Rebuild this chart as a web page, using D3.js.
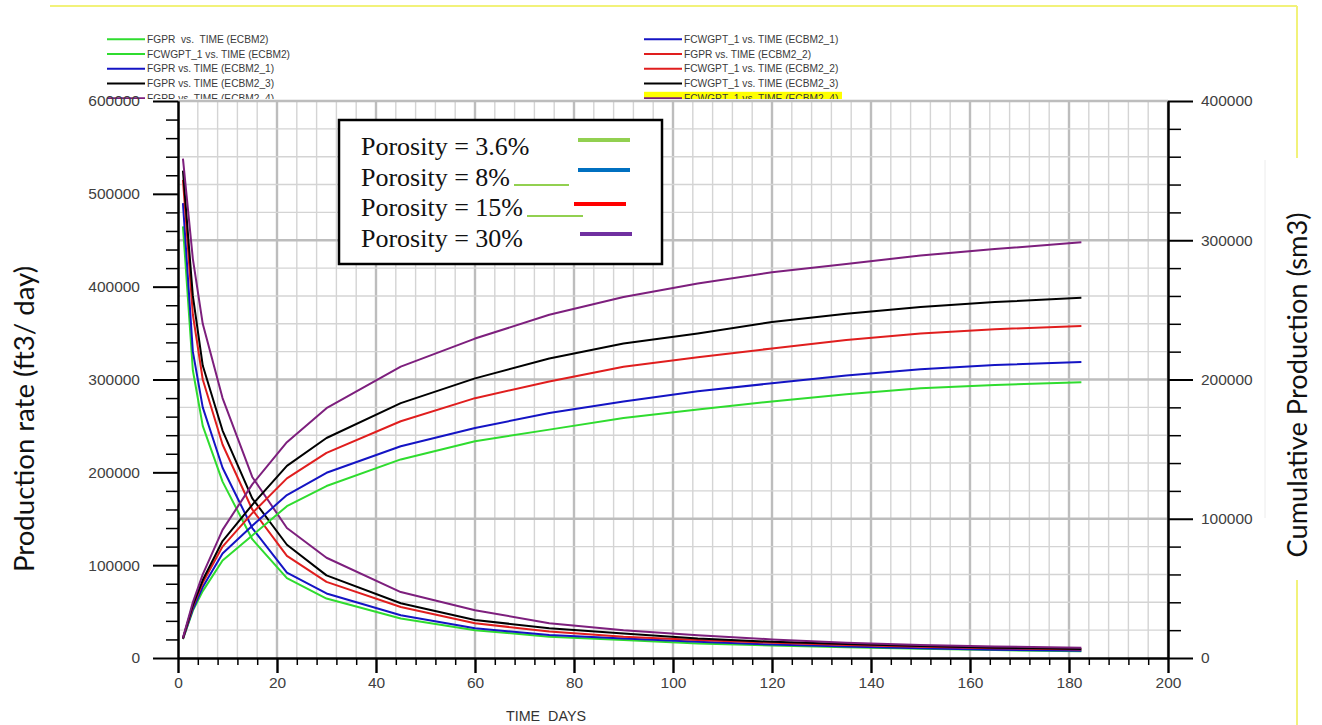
<!DOCTYPE html>
<html>
<head>
<meta charset="utf-8">
<script src="https://cdn.jsdelivr.net/npm/d3@7"></script>
<style>
  html, body { margin: 0; padding: 0; background: #fff; }
  svg { display: block; }
  text { white-space: pre; }
</style>
</head>
<body>
<svg id="chart" width="1322" height="725"></svg>
<script>
// Simulation report times (days)
const timeDays = [1, 3, 5, 9, 15, 22, 30, 45, 60, 75, 90, 105, 120, 135, 150, 165, 182.5];

// Field gas production rate FGPR (ft3/day), one array per case
const rateEcbm2   = [465000, 310000, 250000, 190000, 128000, 86000, 64000, 42600, 30000, 22800, 19300, 15700, 13500, 11500, 10000, 8500, 7300];
const rateEcbm2_1 = [490000, 330000, 270000, 205000, 140000, 92000, 69500, 46000, 32000, 24700, 21000, 17500, 14500, 12500, 10500, 9000, 7800];
const rateEcbm2_2 = [515000, 370000, 300000, 230000, 160000, 110000, 82000, 55000, 37500, 28500, 23000, 19300, 16500, 14000, 12000, 10500, 9200];
const rateEcbm2_3 = [525000, 390000, 315000, 245000, 172000, 122000, 89000, 59000, 41000, 32000, 26500, 21000, 17500, 15000, 12800, 11000, 9800];
const rateEcbm2_4 = [538000, 430000, 360000, 280000, 195000, 140000, 108000, 71000, 51500, 37500, 30000, 24500, 20000, 16500, 14000, 12500, 11000];

// Cumulative coal-bed gas production FCWGPT_1 (sm3), one array per case
const cumEcbm2   = [13500, 34000, 48000, 70000, 88000, 109000, 123500, 142600, 155700, 164000, 172300, 178500, 184200, 189400, 193700, 196100, 198000];
const cumEcbm2_1 = [13700, 35000, 51000, 75000, 95000, 117000, 133000, 152100, 165200, 175900, 184200, 191500, 197300, 202800, 207300, 210400, 212500];
const cumEcbm2_2 = [14000, 37000, 54000, 80000, 104000, 129000, 147300, 170000, 186600, 198500, 209200, 216000, 222300, 228300, 233000, 236100, 238500];
const cumEcbm2_3 = [14200, 38000, 56000, 84000, 110000, 138000, 158000, 183000, 200800, 215100, 225800, 233000, 241300, 247300, 252000, 255600, 258700];
const cumEcbm2_4 = [14500, 40000, 60000, 92000, 124700, 155000, 179400, 209200, 229400, 246500, 259200, 269000, 277000, 283000, 289000, 293700, 298500];

const caseColors = ["#2fdc2f", "#1414c4", "#e01e1e", "#000000", "#7d1f7d"];
const rateSeries = [rateEcbm2, rateEcbm2_1, rateEcbm2_2, rateEcbm2_3, rateEcbm2_4];
const cumSeries  = [cumEcbm2, cumEcbm2_1, cumEcbm2_2, cumEcbm2_3, cumEcbm2_4];

// Axis ticks
const rateTicks = [0, 100000, 200000, 300000, 400000, 500000, 600000];
const cumTicks  = [0, 100000, 200000, 300000, 400000];
const timeTicks = [0, 20, 40, 60, 80, 100, 120, 140, 160, 180, 200];

// Plot-software legend (two columns)
const legendLeftLabels  = ["FGPR  vs.  TIME (ECBM2)", "FCWGPT_1 vs. TIME (ECBM2)", "FGPR vs. TIME (ECBM2_1)", "FGPR vs. TIME (ECBM2_3)", "FGPR vs. TIME (ECBM2_4)"];
const legendLeftCase    = [0, 0, 1, 3, 4];
const legendRightLabels = ["FCWGPT_1 vs. TIME (ECBM2_1)", "FGPR vs. TIME (ECBM2_2)", "FCWGPT_1 vs. TIME (ECBM2_2)", "FCWGPT_1 vs. TIME (ECBM2_3)", "FCWGPT_1 vs. TIME (ECBM2_4)"];
const legendRightCase   = [1, 2, 2, 3, 4];

// Porosity key
const porosityLabels = ["Porosity = 3.6%", "Porosity = 8%", "Porosity = 15%", "Porosity = 30%"];
const porosityColors = ["#92d050", "#0070c0", "#ff0000", "#7030a0"];

(function draw() {
  const svg = d3.select("#chart");
  const W = 1322, H = 725;
  const pL = 178, pR = 1168, pT = 101, pB = 658;

  svg.append("rect").attr("width", W).attr("height", H).attr("fill", "#fff");

  const x = d3.scaleLinear().domain([0, 200]).range([pL, pR]);
  const yRate = d3.scaleLinear().domain([0, 600000]).range([pB, pT]);
  const yCum = d3.scaleLinear().domain([0, 400000]).range([pB, pT]);

  // page frame remnants
  const frame = svg.append("g").attr("stroke", "#f2f27a").attr("stroke-width", 2).attr("fill", "none");
  frame.append("line").attr("x1", 50).attr("x2", 1297).attr("y1", 6).attr("y2", 6);
  frame.append("line").attr("x1", 1297).attr("x2", 1297).attr("y1", 6).attr("y2", 158);
  frame.append("line").attr("x1", 1297).attr("x2", 1297).attr("y1", 580).attr("y2", 725);
  svg.append("line").attr("x1", 1265).attr("x2", 1265).attr("y1", 160).attr("y2", 518)
    .attr("stroke", "#ececec").attr("stroke-width", 1);

  // top legend, clipped where the plot begins
  svg.append("clipPath").attr("id", "legClip")
    .append("rect").attr("x", 0).attr("y", 0).attr("width", W).attr("height", 99);
  const leg = svg.append("g").attr("clip-path", "url(#legClip)");
  const rowY = i => 39.3 + i * 14.75;
  leg.append("rect").attr("x", 644).attr("y", rowY(4) - 6.5).attr("width", 198).attr("height", 14).attr("fill", "#ffff00");
  function legendColumn(labels, cases, lx0, lx1) {
    labels.forEach((lab, i) => {
      leg.append("line").attr("x1", lx0).attr("x2", lx1).attr("y1", rowY(i)).attr("y2", rowY(i))
        .attr("stroke", caseColors[cases[i]]).attr("stroke-width", 2);
      leg.append("text").attr("x", lx1 + 2).attr("y", rowY(i)).attr("dy", "0.36em")
        .attr("font-family", "Liberation Sans, Arial, sans-serif").attr("font-size", 10.2)
        .attr("fill", "#3a3a3a").text(lab);
    });
  }
  legendColumn(legendLeftLabels, legendLeftCase, 107, 145);
  legendColumn(legendRightLabels, legendRightCase, 644, 682);

  // grid
  const grid = svg.append("g");
  d3.range(4, 201, 4).forEach(t => {
    const major = t % 20 === 0;
    grid.append("line").attr("x1", x(t)).attr("x2", x(t)).attr("y1", pT).attr("y2", pB)
      .attr("stroke", major ? "#bdbdbd" : "#d4d4d4").attr("stroke-width", major ? 2.4 : 1.4);
  });
  d3.range(20000, 400001, 20000).forEach(v => {
    const major = v % 100000 === 0;
    grid.append("line").attr("x1", pL).attr("x2", pR).attr("y1", yCum(v)).attr("y2", yCum(v))
      .attr("stroke", major ? "#bdbdbd" : "#d4d4d4").attr("stroke-width", major ? 2.4 : 1.4);
  });

  // axes
  const tickFont = "Liberation Sans, Arial, sans-serif";
  function styleAxis(g, width) {
    g.selectAll(".domain").attr("stroke", "#000").attr("stroke-width", 2);
    g.selectAll(".tick line").attr("stroke", "#000").attr("stroke-width", width);
    g.selectAll("text").attr("font-family", tickFont).attr("font-size", 15.5).attr("fill", "#404040");
  }
  const minorRate = d3.range(0, 600001, 20000).filter(v => v % 100000 !== 0);
  const minorCum = d3.range(0, 400001, 20000).filter(v => v % 100000 !== 0);
  const minorTime = d3.range(0, 201, 4).filter(v => v % 20 !== 0);

  styleAxis(svg.append("g").attr("transform", `translate(${pL},0)`)
    .call(d3.axisLeft(yRate).tickValues(minorRate).tickSize(12).tickSizeOuter(0).tickFormat("")), 1.5);
  styleAxis(svg.append("g").attr("transform", `translate(${pL},0)`)
    .call(d3.axisLeft(yRate).tickValues(rateTicks).tickSize(25).tickSizeOuter(0).tickPadding(13).tickFormat(d => String(d))), 2);

  styleAxis(svg.append("g").attr("transform", `translate(${pR},0)`)
    .call(d3.axisRight(yCum).tickValues(minorCum).tickSize(13).tickSizeOuter(0).tickFormat("")), 1.5);
  styleAxis(svg.append("g").attr("transform", `translate(${pR},0)`)
    .call(d3.axisRight(yCum).tickValues(cumTicks).tickSize(25).tickSizeOuter(0).tickPadding(8).tickFormat(d => String(d))), 2);

  styleAxis(svg.append("g").attr("transform", `translate(0,${pB})`)
    .call(d3.axisBottom(x).tickValues(minorTime).tickSize(7).tickSizeOuter(0).tickFormat("")), 1.5);
  styleAxis(svg.append("g").attr("transform", `translate(0,${pB})`)
    .call(d3.axisBottom(x).tickValues(timeTicks).tickSize(15).tickSizeOuter(0).tickPadding(4).tickFormat(d => String(d))), 2.4);

  // curves
  const rateLine = d3.line().x((d, i) => x(timeDays[i])).y(d => yRate(d));
  const cumLine = d3.line().x((d, i) => x(timeDays[i])).y(d => yCum(d));
  const curves = svg.append("g").attr("fill", "none").attr("stroke-width", 2).attr("stroke-linejoin", "round");
  rateSeries.forEach((s, k) => {
    curves.append("path").attr("d", rateLine(s)).attr("stroke", caseColors[k]);
  });
  cumSeries.forEach((s, k) => {
    curves.append("path").attr("d", cumLine(s)).attr("stroke", caseColors[k]);
  });

  // porosity key
  const key = svg.append("g");
  key.append("rect").attr("x", 339).attr("y", 120).attr("width", 323).attr("height", 144)
    .attr("fill", "#fff").attr("stroke", "#000").attr("stroke-width", 2.5);
  const keyY = i => 155 + i * 30.5;
  porosityLabels.forEach((lab, i) => {
    key.append("text").attr("x", 361).attr("y", keyY(i))
      .attr("font-family", "Liberation Serif, Times New Roman, serif").attr("font-size", 26)
      .attr("fill", "#111").text(lab);
  });
  const swatchX0 = [578, 578, 574, 580];
  const swatchY = [140, 170, 204, 234];
  porosityColors.forEach((c, i) => {
    key.append("line").attr("x1", swatchX0[i]).attr("x2", swatchX0[i] + 52).attr("y1", swatchY[i]).attr("y2", swatchY[i])
      .attr("stroke", c).attr("stroke-width", 4);
  });
  key.append("line").attr("x1", 514).attr("x2", 569).attr("y1", 185).attr("y2", 185)
    .attr("stroke", porosityColors[0]).attr("stroke-width", 2);
  key.append("line").attr("x1", 527).attr("x2", 583).attr("y1", 216).attr("y2", 216)
    .attr("stroke", porosityColors[0]).attr("stroke-width", 2);

  // axis titles
  svg.append("text").attr("transform", "translate(546,716)")
    .attr("text-anchor", "middle").attr("dy", "0.36em")
    .attr("font-family", tickFont).attr("font-size", 14).attr("fill", "#333")
    .attr("textLength", 80).attr("lengthAdjust", "spacingAndGlyphs").text("TIME  DAYS");

  svg.append("text").attr("transform", "translate(34,419) rotate(-90)")
    .attr("text-anchor", "middle")
    .attr("font-family", "Lato, Open Sans, sans-serif").attr("font-size", 27).attr("fill", "#111")
    .attr("textLength", 306).attr("lengthAdjust", "spacingAndGlyphs").text("Production rate (ft3/ day)");

  svg.append("text").attr("transform", "translate(1307,385) rotate(-90)")
    .attr("text-anchor", "middle")
    .attr("font-family", "Lato, Open Sans, sans-serif").attr("font-size", 27).attr("fill", "#111")
    .attr("textLength", 345).attr("lengthAdjust", "spacingAndGlyphs").text("Cumulative Production (sm3)");
})();
</script>
</body>
</html>
